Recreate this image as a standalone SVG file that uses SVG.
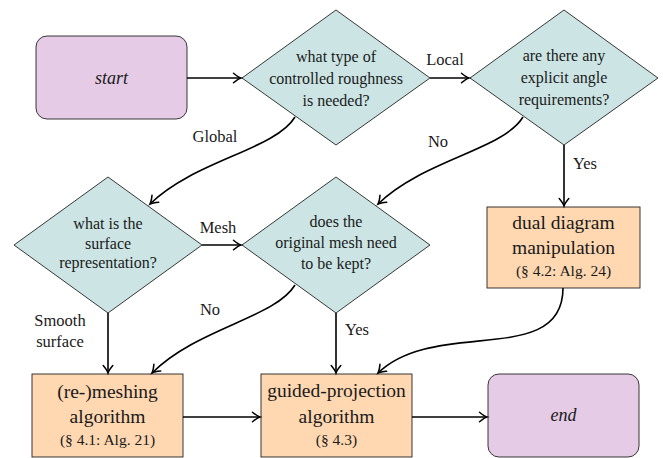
<svg xmlns="http://www.w3.org/2000/svg" width="663" height="458" viewBox="0 0 663 458">
<defs>
<marker id="arr" markerUnits="userSpaceOnUse" markerWidth="14" markerHeight="14" viewBox="-10 -7 12 14" refX="0" refY="0" orient="auto">
<path d="M-7.5,-4.8 C-4.3,-2.1 -1.6,-0.5 0,0 C-1.6,0.5 -4.3,2.1 -7.5,4.8" fill="none" stroke="#000" stroke-width="1.5" stroke-linecap="round"/>
</marker>
</defs>
<style>
text{font-family:'Liberation Serif','Times New Roman',serif;fill:#1a1a1a;text-anchor:middle}
.term{fill:#e5cbe5;stroke:#222;stroke-width:0.9}
.dec{fill:#cce5e4;stroke:#222;stroke-width:0.9}
.proc{fill:#ffd8b2;stroke:#222;stroke-width:0.9}
.dt{font-size:16px}
.bt{font-size:19.5px}
.st{font-size:15.5px}
.it{font-size:18px;font-style:italic}
.lbl{font-size:16.5px}
.c{fill:none;stroke:#000;stroke-width:1.6}
</style>
<g id="start">
<rect class="term" x="36" y="36" width="151" height="83" rx="11"/>
<text class="it" x="111.5" y="84">start</text>
</g>
<g id="q1">
<polygon class="dec" points="336,10 430,78 336,145 242,78"/>
<text class="dt" x="336" y="62">what type of</text>
<text class="dt" x="336" y="84">controlled roughness</text>
<text class="dt" x="336" y="106">is needed?</text>
</g>
<g id="q2">
<polygon class="dec" points="564,10 658,78 564,145 470,78"/>
<text class="dt" x="564" y="61">are there any</text>
<text class="dt" x="564" y="83">explicit angle</text>
<text class="dt" x="564" y="105">requirements?</text>
</g>
<g id="q3">
<polygon class="dec" points="108,177 202,245 108,313 14,245"/>
<text class="dt" x="108" y="229">what is the</text>
<text class="dt" x="108" y="249">surface</text>
<text class="dt" x="108" y="268">representation?</text>
</g>
<g id="q4">
<polygon class="dec" points="336,177 430,245 336,313 242,245"/>
<text class="dt" x="336" y="227">does the</text>
<text class="dt" x="336" y="248">original mesh need</text>
<text class="dt" x="336" y="269">to be kept?</text>
</g>
<g id="dual">
<rect class="proc" x="487" y="207" width="153" height="81"/>
<text class="bt" x="563.5" y="229">dual diagram</text>
<text class="bt" x="563.5" y="254">manipulation</text>
<text class="st" x="563.5" y="276">(§ 4.2: Alg. 24)</text>
</g>
<g id="remesh">
<rect class="proc" x="32" y="374" width="151" height="83"/>
<text class="bt" x="107.5" y="398">(re-)meshing</text>
<text class="bt" x="107.5" y="423">algorithm</text>
<text class="st" x="107.5" y="445">(§ 4.1: Alg. 21)</text>
</g>
<g id="guided">
<rect class="proc" x="261" y="374" width="151" height="83"/>
<text class="bt" x="336.5" y="397">guided-projection</text>
<text class="bt" x="336.5" y="423">algorithm</text>
<text class="st" x="336.5" y="445">(§ 4.3)</text>
</g>
<g id="end">
<rect class="term" x="488" y="374" width="151" height="83" rx="11"/>
<text class="it" x="563.5" y="421">end</text>
</g>
<g id="connectors">
<path class="c" d="M187,78 L241,78" marker-end="url(#arr)"/>
<path class="c" d="M430,78 L469,78" marker-end="url(#arr)"/>
<path class="c" d="M564,145 L564,206" marker-end="url(#arr)"/>
<path class="c" d="M295,117 C275,150 195,160 150,204" marker-end="url(#arr)"/>
<path class="c" d="M523,117 C503,150 423,160 378,204" marker-end="url(#arr)"/>
<path class="c" d="M202,245 L241,245" marker-end="url(#arr)"/>
<path class="c" d="M108,313 L108,373" marker-end="url(#arr)"/>
<path class="c" d="M295,285 C275,318 197,328 152,373" marker-end="url(#arr)"/>
<path class="c" d="M336,313 L336,373" marker-end="url(#arr)"/>
<path class="c" d="M563,288 C563,368 434.6,317.4 378,373" marker-end="url(#arr)"/>
<path class="c" d="M183,417 L260,417" marker-end="url(#arr)"/>
<path class="c" d="M412,417 L487,417" marker-end="url(#arr)"/>
<text class="lbl" x="445" y="65">Local</text>
<text class="lbl" x="215" y="142">Global</text>
<text class="lbl" x="438" y="147">No</text>
<text class="lbl" x="585" y="169">Yes</text>
<text class="lbl" x="218" y="233">Mesh</text>
<text class="lbl" x="210" y="315">No</text>
<text class="lbl" x="357" y="335">Yes</text>
<text class="lbl" x="60" y="326">Smooth</text>
<text class="lbl" x="60" y="347">surface</text>
</g>
</svg>
